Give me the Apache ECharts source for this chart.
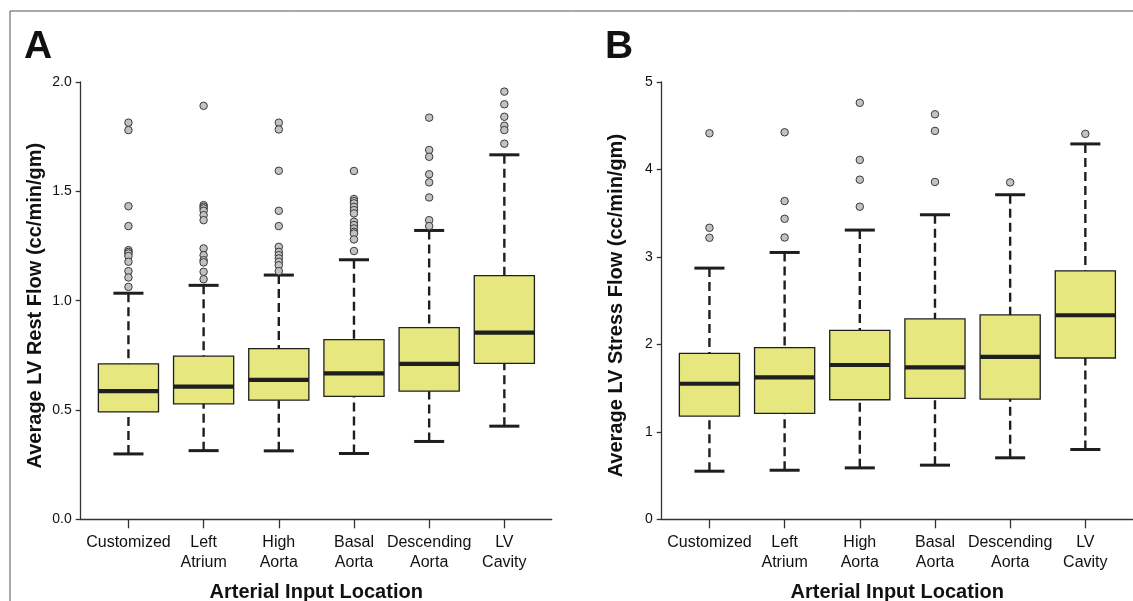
<!DOCTYPE html>
<html><head><meta charset="utf-8">
<script src="https://cdn.jsdelivr.net/npm/echarts@6/dist/echarts.min.js"></script>
<style>html,body{margin:0;padding:0;background:#fff}#c{width:1133px;height:601px}</style>
</head><body><div id="c"></div>
<script>
const categories = ['Customized', 'Left\nAtrium', 'High\nAorta', 'Basal\nAorta', 'Descending\nAorta', 'LV\nCavity'];
const xPositions = [1, 2, 3, 4, 5, 6];
// each box: [lower whisker, Q1, median, Q3, upper whisker]
const restBoxes = [
  [0.299, 0.491, 0.586, 0.711, 1.034],
  [0.314, 0.528, 0.607, 0.746, 1.070],
  [0.313, 0.545, 0.638, 0.781, 1.117],
  [0.301, 0.562, 0.667, 0.822, 1.187],
  [0.356, 0.586, 0.711, 0.877, 1.321],
  [0.426, 0.713, 0.854, 1.114, 1.667]
];
const restOutliers = [
  [1.814, 1.780, 1.432, 1.341, 1.231, 1.223, 1.216, 1.204, 1.178, 1.135, 1.106, 1.063],
  [1.891, 1.437, 1.429, 1.422, 1.411, 1.391, 1.368, 1.239, 1.208, 1.185, 1.175, 1.132, 1.098],
  [1.814, 1.783, 1.594, 1.411, 1.341, 1.246, 1.223, 1.208, 1.193, 1.178, 1.162, 1.135],
  [1.593, 1.465, 1.455, 1.445, 1.429, 1.414, 1.399, 1.361, 1.346, 1.330, 1.315, 1.307, 1.280, 1.227],
  [1.837, 1.689, 1.658, 1.578, 1.541, 1.472, 1.368, 1.341],
  [1.956, 1.898, 1.841, 1.800, 1.780, 1.718]
];
const stressBoxes = [
  [0.550, 1.180, 1.550, 1.898, 2.872],
  [0.561, 1.211, 1.623, 1.963, 3.051],
  [0.588, 1.367, 1.764, 2.161, 3.307],
  [0.619, 1.382, 1.737, 2.291, 3.482],
  [0.703, 1.375, 1.856, 2.337, 3.711],
  [0.798, 1.844, 2.333, 2.841, 4.292]
];
const stressOutliers = [
  [4.414, 3.333, 3.219],
  [4.425, 3.639, 3.436, 3.222],
  [4.762, 4.109, 3.883, 3.574],
  [4.631, 4.441, 3.857],
  [3.852],
  [4.407]
];
const restTickStep = 0.5;
const stressTickStep = 1;

const DARK = '#1e1e1e';
const AX = '#333';
const FONT = '"Liberation Sans", Arial, Helvetica, sans-serif';

function renderBox(params, api) {
  const x = api.value(0);
  const lo = api.coord([x, api.value(1)]);
  const q1 = api.coord([x, api.value(2)]);
  const md = api.coord([x, api.value(3)]);
  const q3 = api.coord([x, api.value(4)]);
  const hi = api.coord([x, api.value(5)]);
  const bw = api.size([0.8, 0])[0];
  const cw = api.size([0.4, 0])[0];
  const cx = lo[0];
  const dash = { stroke: DARK, lineWidth: 2.4, lineDash: [9, 5], fill: null };
  const solid = { stroke: DARK, lineWidth: 3, fill: null };
  return {
    type: 'group',
    children: [
      { type: 'line', shape: { x1: cx, y1: hi[1], x2: cx, y2: q3[1] }, style: dash },
      { type: 'line', shape: { x1: cx, y1: lo[1], x2: cx, y2: q1[1] }, style: dash },
      { type: 'line', shape: { x1: cx - cw / 2, y1: hi[1], x2: cx + cw / 2, y2: hi[1] }, style: solid },
      { type: 'line', shape: { x1: cx - cw / 2, y1: lo[1], x2: cx + cw / 2, y2: lo[1] }, style: solid },
      { type: 'rect', shape: { x: cx - bw / 2, y: q3[1], width: bw, height: q1[1] - q3[1] },
        style: { fill: '#e6e87f', stroke: DARK, lineWidth: 1.3 } },
      { type: 'line', shape: { x1: cx - bw / 2, y1: md[1], x2: cx + bw / 2, y2: md[1] },
        style: { stroke: DARK, lineWidth: 4.2 } }
    ]
  };
}

function boxData(boxes) { return boxes.map((b, i) => [xPositions[i]].concat(b)); }
function outlierData(outs) {
  const d = [];
  outs.forEach((arr, i) => arr.forEach(v => d.push([xPositions[i], v])));
  return d;
}

function xAxisCfg(gridIndex) {
  return {
    type: 'value', gridIndex: gridIndex, min: 0.365, max: 6.63,
    name: 'Arterial Input Location', nameLocation: 'middle', nameGap: 63,
    nameTextStyle: { fontFamily: FONT, fontSize: 20, fontWeight: 'bold', color: '#111' },
    splitLine: { show: false },
    axisLine: { show: true, onZero: false, lineStyle: { color: AX, width: 1.3 } },
    axisTick: { show: true, length: 9, customValues: xPositions, lineStyle: { color: AX, width: 1.3 } },
    axisLabel: {
      customValues: xPositions, margin: 13,
      formatter: v => categories[xPositions.indexOf(v)] || '',
      fontFamily: FONT, fontSize: 16, lineHeight: 20, color: '#111'
    }
  };
}
function yAxisCfg(gridIndex, max, step, name, digits) {
  return {
    type: 'value', gridIndex: gridIndex, min: 0, max: max, interval: step,
    name: name, nameLocation: 'middle', nameGap: 35,
    nameTextStyle: { fontFamily: FONT, fontSize: 20, fontWeight: 'bold', color: '#111', padding: [0, 10, 0, 0] },
    splitLine: { show: false },
    axisLine: { show: true, onZero: false, lineStyle: { color: AX, width: 1.3 } },
    axisTick: { show: true, length: 5, lineStyle: { color: AX, width: 1.3 } },
    axisLabel: { margin: 9, fontFamily: FONT, fontSize: 14, color: '#111',
      formatter: v => v.toFixed(digits) }
  };
}

const chart = echarts.init(document.getElementById('c'), null, { renderer: 'canvas' });
chart.setOption({
  animation: false,
  backgroundColor: '#fff',
  title: [
    { text: 'A', left: 19, top: 23, textStyle: { fontFamily: FONT, fontSize: 39, fontWeight: 'bold', color: '#111' } },
    { text: 'B', left: 600, top: 23, textStyle: { fontFamily: FONT, fontSize: 39, fontWeight: 'bold', color: '#111' } }
  ],
  graphic: [
    { type: 'line', shape: { x1: 10, y1: 11, x2: 1133, y2: 11 }, style: { stroke: '#555', lineWidth: 1 } },
    { type: 'line', shape: { x1: 10, y1: 11, x2: 10, y2: 601 }, style: { stroke: '#555', lineWidth: 1 } }
  ],
  grid: [
    { left: 80.7, top: 82, width: 471, height: 437.3, containLabel: false, outerBoundsMode: 'none' },
    { left: 661.7, top: 82, width: 471, height: 437.3, containLabel: false, outerBoundsMode: 'none' }
  ],
  xAxis: [xAxisCfg(0), xAxisCfg(1)],
  yAxis: [
    yAxisCfg(0, 2, restTickStep, 'Average LV Rest Flow (cc/min/gm)', 1),
    yAxisCfg(1, 5, stressTickStep, 'Average LV Stress Flow (cc/min/gm)', 0)
  ],
  series: [
    { type: 'custom', xAxisIndex: 0, yAxisIndex: 0, renderItem: renderBox, data: boxData(restBoxes),
      encode: { x: 0, y: [1, 2, 3, 4, 5] } },
    { type: 'scatter', xAxisIndex: 0, yAxisIndex: 0, data: outlierData(restOutliers), symbolSize: 7.5,
      itemStyle: { color: '#c2c2c2', borderColor: '#3a3a3a', borderWidth: 1, opacity: 1 } },
    { type: 'custom', xAxisIndex: 1, yAxisIndex: 1, renderItem: renderBox, data: boxData(stressBoxes),
      encode: { x: 0, y: [1, 2, 3, 4, 5] } },
    { type: 'scatter', xAxisIndex: 1, yAxisIndex: 1, data: outlierData(stressOutliers), symbolSize: 7.5,
      itemStyle: { color: '#c2c2c2', borderColor: '#3a3a3a', borderWidth: 1, opacity: 1 } }
  ]
});
</script>
</body></html>
